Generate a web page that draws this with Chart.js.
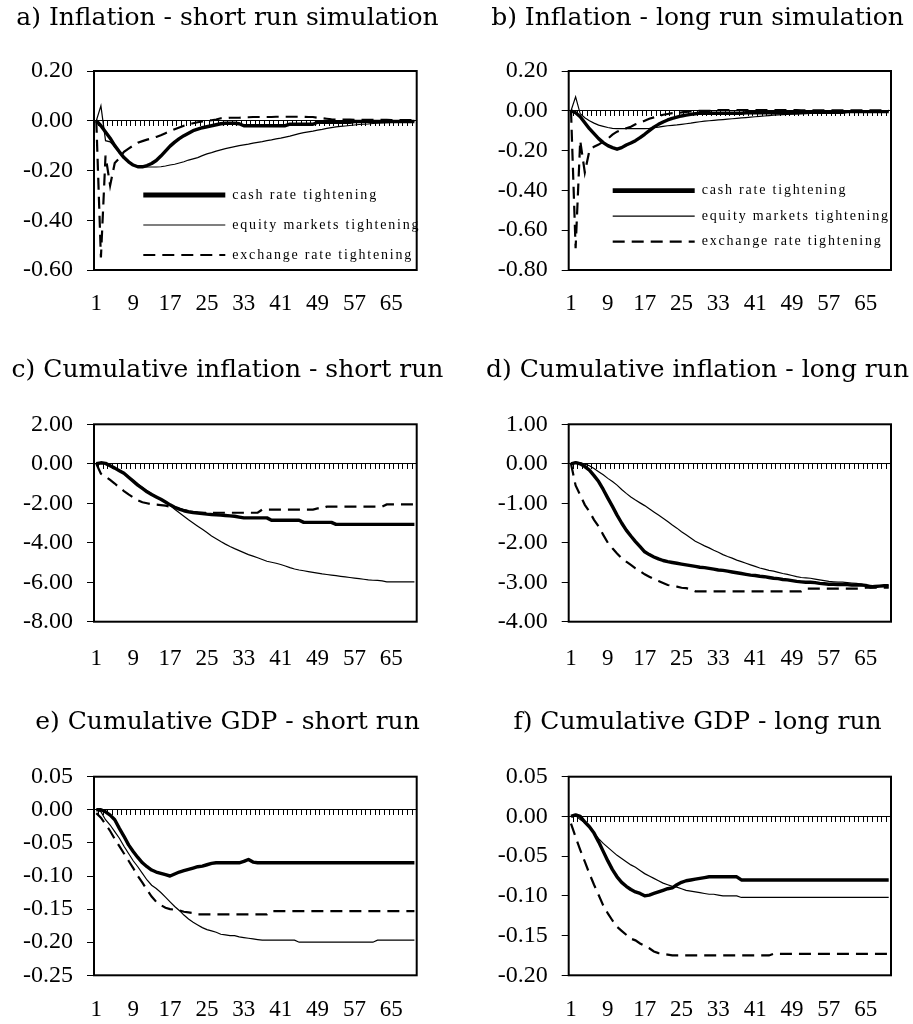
<!DOCTYPE html>
<html>
<head>
<meta charset="utf-8">
<script src="https://cdn.jsdelivr.net/npm/chart.js@4.4.1/dist/chart.umd.min.js"></script>
<style>
  html, body { margin: 0; padding: 0; background: #fff; }
  body { width: 913px; height: 1024px; position: relative; overflow: hidden; }
  canvas { position: absolute; }
</style>
</head>
<body>
<canvas id="pa" width="455" height="330" style="left:0px;top:0px"></canvas>
<canvas id="pb" width="431" height="330" style="left:482px;top:0px"></canvas>
<canvas id="pc" width="455" height="340" style="left:0px;top:340px"></canvas>
<canvas id="pd" width="431" height="340" style="left:482px;top:340px"></canvas>
<canvas id="pe" width="455" height="334" style="left:0px;top:690px"></canvas>
<canvas id="pf" width="431" height="334" style="left:482px;top:690px"></canvas>
<script>
// periods 1..70
var periods = [1, 2, 3, 4, 5, 6, 7, 8, 9, 10, 11, 12, 13, 14, 15, 16, 17, 18, 19, 20,
  21, 22, 23, 24, 25, 26, 27, 28, 29, 30, 31, 32, 33, 34, 35, 36, 37, 38, 39, 40,
  41, 42, 43, 44, 45, 46, 47, 48, 49, 50, 51, 52, 53, 54, 55, 56, 57, 58, 59, 60,
  61, 62, 63, 64, 65, 66, 67, 68, 69, 70];
var shownTicks = [1, 9, 17, 25, 33, 41, 49, 57, 65];
var seriesNames = ["cash rate tightening", "equity markets tightening", "exchange rate tightening"];

// a) Inflation - short run simulation
var cashA = [0, -0.02, -0.045, -0.07, -0.1, -0.125, -0.148, -0.165, -0.178, -0.185,
  -0.185, -0.18, -0.172, -0.16, -0.142, -0.122, -0.102, -0.086, -0.072, -0.06,
  -0.05, -0.04, -0.034, -0.028, -0.024, -0.02, -0.016, -0.012, -0.01, -0.01,
  -0.01, -0.012, -0.02, -0.02, -0.02, -0.02, -0.02, -0.02, -0.02, -0.02,
  -0.02, -0.02, -0.014, -0.014, -0.014, -0.014, -0.014, -0.014, -0.006, -0.006,
  -0.006, -0.006, -0.006, -0.006, -0.006, -0.006, -0.003, -0.003, -0.003, -0.003,
  -0.003, -0.003, -0.003, -0.003, -0.003, -0.003, -0.003, -0.003, -0.003, -0.003];
var equityA = [0, 0.06, -0.08, -0.085, -0.105, -0.128, -0.15, -0.167, -0.18, -0.186,
  -0.186, -0.186, -0.186, -0.186, -0.185, -0.182, -0.178, -0.175, -0.17, -0.165,
  -0.158, -0.153, -0.148, -0.14, -0.133, -0.128, -0.122, -0.117, -0.112, -0.108,
  -0.104, -0.1, -0.097, -0.094, -0.09, -0.087, -0.084, -0.08, -0.077, -0.073,
  -0.07, -0.066, -0.062, -0.057, -0.052, -0.048, -0.045, -0.042, -0.038, -0.035,
  -0.031, -0.028, -0.025, -0.023, -0.021, -0.019, -0.017, -0.015, -0.014, -0.013,
  -0.011, -0.01, -0.009, -0.008, -0.007, -0.006, -0.005, -0.004, -0.004, -0.003];
var exchA = [0, -0.55, -0.14, -0.26, -0.17, -0.15, -0.125, -0.112, -0.1, -0.088,
  -0.082, -0.076, -0.071, -0.065, -0.058, -0.05, -0.042, -0.034, -0.027, -0.02,
  -0.015, -0.01, -0.006, -0.003, 0, 0.002, 0.005, 0.01, 0.01, 0.012,
  0.012, 0.012, 0.014, 0.014, 0.015, 0.015, 0.015, 0.015, 0.015, 0.016,
  0.016, 0.016, 0.016, 0.016, 0.016, 0.016, 0.015, 0.015, 0.012, 0.01,
  0.008, 0.006, 0.005, 0.005, 0.005, 0.005, 0.004, 0.004, 0.004, 0.004,
  0.004, 0.004, 0.004, 0.004, 0.003, 0.003, 0.003, 0.003, 0.003, 0.003];

// b) Inflation - long run simulation
var cashB = [0, -0.01, -0.03, -0.06, -0.09, -0.115, -0.14, -0.16, -0.175, -0.185,
  -0.193, -0.185, -0.172, -0.162, -0.15, -0.135, -0.118, -0.1, -0.082, -0.068,
  -0.056, -0.046, -0.038, -0.032, -0.026, -0.022, -0.018, -0.015, -0.012, -0.012,
  -0.012, -0.012, -0.012, -0.012, -0.012, -0.012, -0.012, -0.012, -0.01, -0.01,
  -0.01, -0.01, -0.01, -0.01, -0.01, -0.01, -0.01, -0.01, -0.01, -0.01,
  -0.007, -0.007, -0.007, -0.007, -0.007, -0.007, -0.007, -0.007, -0.007, -0.007,
  -0.004, -0.004, -0.004, -0.004, -0.004, -0.004, -0.004, -0.004, -0.004, -0.004];
var equityB = [0, 0.07, -0.015, -0.035, -0.05, -0.062, -0.072, -0.078, -0.084, -0.088,
  -0.09, -0.09, -0.09, -0.09, -0.09, -0.09, -0.09, -0.088, -0.085, -0.082,
  -0.078, -0.075, -0.073, -0.071, -0.068, -0.065, -0.062, -0.058, -0.055, -0.052,
  -0.05, -0.048, -0.046, -0.044, -0.042, -0.04, -0.038, -0.036, -0.034, -0.032,
  -0.03, -0.028, -0.026, -0.024, -0.022, -0.02, -0.019, -0.018, -0.017, -0.016,
  -0.015, -0.014, -0.013, -0.012, -0.011, -0.01, -0.009, -0.008, -0.008, -0.007,
  -0.006, -0.006, -0.005, -0.005, -0.004, -0.004, -0.003, -0.003, -0.003, -0.003];
var exchB = [0, -0.69, -0.15, -0.31, -0.2, -0.18, -0.17, -0.155, -0.14, -0.12,
  -0.105, -0.096, -0.088, -0.08, -0.068, -0.06, -0.05, -0.04, -0.033, -0.026,
  -0.02, -0.016, -0.012, -0.01, -0.008, -0.005, -0.003, 0, 0, 0,
  0, 0, 0.004, 0.004, 0.004, 0.004, 0.004, 0.004, 0.004, 0.004,
  0.004, 0.004, 0.004, 0.004, 0.004, 0.004, 0.004, 0.004, 0.004, 0.004,
  0.002, 0.002, 0.002, 0.002, 0.002, 0.002, 0.002, 0.002, 0.002, 0.002,
  0.002, 0.002, 0.002, 0.002, 0.002, 0.002, 0.002, 0.002, 0.002, 0.002];

// c) Cumulative inflation - short run
var cashC = [0, 0.05, 0.02, -0.1, -0.22, -0.35, -0.48, -0.68, -0.88, -1.08,
  -1.25, -1.42, -1.56, -1.68, -1.8, -1.94, -2.08, -2.2, -2.3, -2.38,
  -2.43, -2.47, -2.5, -2.52, -2.55, -2.57, -2.58, -2.6, -2.62, -2.64,
  -2.66, -2.7, -2.74, -2.74, -2.74, -2.74, -2.74, -2.74, -2.86, -2.86,
  -2.86, -2.86, -2.86, -2.86, -2.86, -2.97, -2.97, -2.97, -2.97, -2.97,
  -2.97, -2.97, -3.07, -3.07, -3.07, -3.07, -3.07, -3.07, -3.07, -3.07,
  -3.07, -3.07, -3.07, -3.07, -3.07, -3.07, -3.07, -3.07, -3.07, -3.07];
var equityC = [0, 0.05, 0.02, -0.08, -0.2, -0.32, -0.46, -0.64, -0.84, -1.02,
  -1.2, -1.36, -1.52, -1.66, -1.8, -1.95, -2.1, -2.3, -2.48, -2.66,
  -2.84, -3.0, -3.16, -3.32, -3.48, -3.66, -3.8, -3.94, -4.07, -4.19,
  -4.3, -4.4, -4.5, -4.6, -4.68, -4.76, -4.85, -4.94, -4.99, -5.04,
  -5.1, -5.18, -5.26, -5.33, -5.38, -5.42, -5.46, -5.5, -5.54, -5.58,
  -5.61, -5.64, -5.67, -5.7, -5.73, -5.76, -5.79, -5.82, -5.85, -5.88,
  -5.9, -5.91, -5.93, -5.98, -5.98, -5.98, -5.98, -5.98, -5.98, -5.98];
var exchC = [0, -0.5, -0.65, -0.82, -1.0, -1.2, -1.38, -1.55, -1.7, -1.85,
  -1.95, -2.0, -2.05, -2.07, -2.09, -2.12, -2.17, -2.22, -2.28, -2.34,
  -2.4, -2.44, -2.46, -2.48, -2.48, -2.48, -2.48, -2.48, -2.48, -2.48,
  -2.48, -2.48, -2.48, -2.48, -2.48, -2.48, -2.32, -2.32, -2.32, -2.32,
  -2.32, -2.32, -2.32, -2.32, -2.32, -2.32, -2.32, -2.32, -2.26, -2.26,
  -2.17, -2.17, -2.17, -2.17, -2.17, -2.17, -2.17, -2.17, -2.17, -2.17,
  -2.17, -2.17, -2.17, -2.06, -2.06, -2.06, -2.06, -2.06, -2.06, -2.06];

// d) Cumulative inflation - long run
var cashD = [0, 0.03, 0, -0.07, -0.16, -0.3, -0.45, -0.65, -0.87, -1.08,
  -1.3, -1.5, -1.68, -1.83, -1.97, -2.1, -2.23, -2.3, -2.36, -2.41,
  -2.45, -2.48, -2.5, -2.52, -2.54, -2.56, -2.58, -2.6, -2.62, -2.63,
  -2.65, -2.67, -2.69, -2.7, -2.72, -2.74, -2.76, -2.78, -2.8, -2.82,
  -2.83, -2.85, -2.86, -2.88, -2.9, -2.91, -2.93, -2.94, -2.96, -2.98,
  -2.99, -3.0, -3.0, -3.01, -3.03, -3.04, -3.05, -3.05, -3.06, -3.06,
  -3.06, -3.07, -3.07, -3.07, -3.08, -3.12, -3.11, -3.1, -3.09, -3.09];
var equityD = [0, 0.04, 0.03, -0.01, -0.05, -0.12, -0.2, -0.28, -0.37, -0.45,
  -0.54, -0.65, -0.75, -0.84, -0.92, -0.99, -1.06, -1.14, -1.22, -1.3,
  -1.38, -1.46, -1.55, -1.63, -1.72, -1.8, -1.88, -1.96, -2.02, -2.08,
  -2.13, -2.19, -2.24, -2.3, -2.35, -2.39, -2.44, -2.48, -2.52, -2.56,
  -2.6, -2.64, -2.67, -2.7, -2.72, -2.75, -2.78, -2.8, -2.83, -2.86,
  -2.88, -2.89, -2.9, -2.92, -2.94, -2.96, -2.98, -2.99, -3.0, -3.0,
  -3.01, -3.02, -3.03, -3.05, -3.07, -3.08, -3.09, -3.09, -3.09, -3.09];
var exchD = [0, -0.55, -0.79, -1.04, -1.21, -1.42, -1.59, -1.8, -2.0, -2.14,
  -2.27, -2.39, -2.48, -2.56, -2.65, -2.72, -2.8, -2.86, -2.92, -2.97,
  -3.02, -3.07, -3.09, -3.11, -3.14, -3.15, -3.18, -3.23, -3.23, -3.23,
  -3.23, -3.23, -3.23, -3.23, -3.23, -3.23, -3.23, -3.23, -3.23, -3.23,
  -3.23, -3.23, -3.23, -3.23, -3.23, -3.23, -3.23, -3.23, -3.23, -3.23,
  -3.23, -3.16, -3.16, -3.16, -3.16, -3.16, -3.16, -3.16, -3.16, -3.16,
  -3.16, -3.16, -3.16, -3.16, -3.14, -3.14, -3.14, -3.14, -3.14, -3.14];

// e) Cumulative GDP - short run
var cashE = [0, 0, -0.003, -0.008, -0.015, -0.028, -0.04, -0.053, -0.063, -0.072,
  -0.08, -0.086, -0.091, -0.094, -0.096, -0.098, -0.1, -0.097, -0.094, -0.092,
  -0.09, -0.088, -0.086, -0.085, -0.083, -0.081, -0.08, -0.08, -0.08, -0.08,
  -0.08, -0.08, -0.078, -0.075, -0.079, -0.08, -0.08, -0.08, -0.08, -0.08,
  -0.08, -0.08, -0.08, -0.08, -0.08, -0.08, -0.08, -0.08, -0.08, -0.08,
  -0.08, -0.08, -0.08, -0.08, -0.08, -0.08, -0.08, -0.08, -0.08, -0.08,
  -0.08, -0.08, -0.08, -0.08, -0.08, -0.08, -0.08, -0.08, -0.08, -0.08];
var equityE = [0, -0.003, -0.015, -0.023, -0.033, -0.043, -0.055, -0.066, -0.077, -0.086,
  -0.096, -0.106, -0.114, -0.119, -0.125, -0.132, -0.139, -0.146, -0.152, -0.159,
  -0.165, -0.17, -0.174, -0.178, -0.181, -0.183, -0.185, -0.188, -0.189, -0.19,
  -0.19, -0.192, -0.193, -0.194, -0.195, -0.196, -0.197, -0.197, -0.197, -0.197,
  -0.197, -0.197, -0.197, -0.197, -0.2, -0.2, -0.2, -0.2, -0.2, -0.2,
  -0.2, -0.2, -0.2, -0.2, -0.2, -0.2, -0.2, -0.2, -0.2, -0.2,
  -0.2, -0.197, -0.197, -0.197, -0.197, -0.197, -0.197, -0.197, -0.197, -0.197];
var exchE = [-0.005, -0.012, -0.022, -0.032, -0.044, -0.055, -0.066, -0.077, -0.088, -0.1,
  -0.11, -0.121, -0.131, -0.139, -0.144, -0.148, -0.15, -0.151, -0.152, -0.154,
  -0.155, -0.156, -0.158, -0.158, -0.158, -0.158, -0.158, -0.158, -0.158, -0.158,
  -0.158, -0.158, -0.158, -0.158, -0.158, -0.158, -0.158, -0.158, -0.153, -0.153,
  -0.153, -0.153, -0.153, -0.153, -0.153, -0.153, -0.153, -0.153, -0.153, -0.153,
  -0.153, -0.153, -0.153, -0.153, -0.153, -0.153, -0.153, -0.153, -0.153, -0.153,
  -0.153, -0.153, -0.153, -0.153, -0.153, -0.153, -0.153, -0.153, -0.153, -0.153];

// f) Cumulative GDP - long run
var cashF = [0, 0.002, 0, -0.007, -0.013, -0.021, -0.032, -0.044, -0.056, -0.067,
  -0.076, -0.083, -0.088, -0.092, -0.095, -0.097, -0.1, -0.099, -0.097, -0.095,
  -0.093, -0.091, -0.09, -0.086, -0.083, -0.081, -0.08, -0.079, -0.078, -0.077,
  -0.076, -0.076, -0.076, -0.076, -0.076, -0.076, -0.076, -0.08, -0.08, -0.08,
  -0.08, -0.08, -0.08, -0.08, -0.08, -0.08, -0.08, -0.08, -0.08, -0.08,
  -0.08, -0.08, -0.08, -0.08, -0.08, -0.08, -0.08, -0.08, -0.08, -0.08,
  -0.08, -0.08, -0.08, -0.08, -0.08, -0.08, -0.08, -0.08, -0.08, -0.08];
var equityF = [0, 0.001, -0.004, -0.008, -0.014, -0.021, -0.028, -0.034, -0.039, -0.044,
  -0.049, -0.053, -0.057, -0.061, -0.064, -0.068, -0.072, -0.075, -0.078, -0.081,
  -0.084, -0.086, -0.088, -0.089, -0.091, -0.093, -0.094, -0.095, -0.096, -0.097,
  -0.098, -0.098, -0.099, -0.1, -0.1, -0.1, -0.1, -0.102, -0.102, -0.102,
  -0.102, -0.102, -0.102, -0.102, -0.102, -0.102, -0.102, -0.102, -0.102, -0.102,
  -0.102, -0.102, -0.102, -0.102, -0.102, -0.102, -0.102, -0.102, -0.102, -0.102,
  -0.102, -0.102, -0.102, -0.102, -0.102, -0.102, -0.102, -0.102, -0.102, -0.102];
var exchF = [-0.009, -0.026, -0.042, -0.057, -0.072, -0.086, -0.099, -0.112, -0.122, -0.131,
  -0.139, -0.144, -0.149, -0.154, -0.156, -0.16, -0.163, -0.166, -0.17, -0.172,
  -0.173, -0.174, -0.175, -0.175, -0.175, -0.175, -0.175, -0.175, -0.175, -0.175,
  -0.175, -0.175, -0.175, -0.175, -0.175, -0.175, -0.175, -0.175, -0.175, -0.175,
  -0.175, -0.175, -0.175, -0.175, -0.173, -0.173, -0.173, -0.173, -0.173, -0.173,
  -0.173, -0.173, -0.173, -0.173, -0.173, -0.173, -0.173, -0.173, -0.173, -0.173,
  -0.173, -0.173, -0.173, -0.173, -0.173, -0.173, -0.173, -0.173, -0.173, -0.173];

// y tick labels, top to bottom
var yTicksA = [0.2, 0, -0.2, -0.4, -0.6];
var yTicksB = [0.2, 0, -0.2, -0.4, -0.6, -0.8];
var yTicksC = [2, 0, -2, -4, -6, -8];
var yTicksD = [1, 0, -1, -2, -3, -4];
var yTicksE = [0.05, 0, -0.05, -0.1, -0.15, -0.2, -0.25];
var yTicksF = [0.05, 0, -0.05, -0.1, -0.15, -0.2];

Chart.defaults.font.family = "'Liberation Serif', 'Times New Roman', serif";
Chart.defaults.color = '#000';

// box round the plot area
var frame = {
  id: 'frame',
  beforeDatasetsDraw: function(chart) {
    var ctx = chart.ctx, a = chart.chartArea;
    ctx.save();
    ctx.strokeStyle = '#000';
    ctx.lineWidth = 2;
    ctx.strokeRect(a.left, a.top, a.right - a.left, a.bottom - a.top);
    ctx.restore();
  }
};

// put the legend inside the plot and space its letters
var legendSpot = {
  id: 'legendSpot',
  afterLayout: function(chart, args, opts) {
    var lg = chart.legend;
    if (!lg || opts.x === undefined) return;
    var pad = lg.options.labels.padding;
    lg.left = opts.x - pad;
    lg.top = opts.y;
    lg.width = 320;
    lg.height = 160;
    lg.right = lg.left + 320;
    lg.bottom = lg.top + 160;
    if (!lg._spaced) {
      var draw = lg.draw;
      lg.draw = function(area) {
        var c = this.ctx;
        c.save();
        c.letterSpacing = opts.spacing;
        draw.call(this, area);
        c.restore();
      };
      lg._spaced = true;
    }
  }
};

// column / row geometry
var cols = {
  left: { yW: 94, padR: 38.3 },
  right: { yW: 86.7, padR: 22 }
};
var rows = {
  r1: { tTop: 3.6, tBottom: 38.6, xH: 60, xPad: 20 },
  r2: { tTop: 16.4, tBottom: 39.1, xH: 58.3, xPad: 23 },
  r3: { tTop: 17.6, tBottom: 40.3, xH: 48.7, xPad: 21 }
};

function panel(id, col, row, titleText, cash, equity, exch, yTicks, legendAt) {
  var c = cols[col], r = rows[row];
  var showLegend = !!legendAt;
  return new Chart(document.getElementById(id), {
    type: 'line',
    data: {
      labels: periods,
      datasets: [
        { label: seriesNames[0], data: cash, borderColor: '#000', borderWidth: 3.4,
          borderJoinStyle: 'round', pointRadius: 0, xAxisID: 'x', yAxisID: 'y' },
        { label: seriesNames[1], data: equity, borderColor: '#000', borderWidth: 1.2,
          pointRadius: 0, xAxisID: 'x', yAxisID: 'y' },
        { label: seriesNames[2], data: exch, borderColor: '#000', borderWidth: 2.2,
          borderDash: [12, 7], pointRadius: 0, xAxisID: 'x', yAxisID: 'y' }
      ]
    },
    options: {
      responsive: false,
      animation: false,
      events: [],
      layout: { padding: 0 },
      scales: {
        x: {
          type: 'category',
          offset: true,
          grid: { display: false, drawTicks: false },
          border: { display: false },
          ticks: {
            autoSkip: false, maxRotation: 0, minRotation: 0,
            padding: r.xPad,
            color: '#000',
            font: { size: 23 },
            callback: function(v) {
              var lab = this.getLabelForValue(v);
              return shownTicks.indexOf(lab) >= 0 ? String(lab) : '';
            }
          },
          afterFit: function(s) { s.height = r.xH; }
        },
        x0: {
          type: 'category',
          axis: 'x',
          position: { y: 0 },
          offset: true,
          grid: { display: true, drawOnChartArea: false, drawTicks: true, tickLength: 5,
                  color: '#000', lineWidth: 1, offset: true },
          border: { display: true, color: '#000', width: 1 },
          ticks: { display: false }
        },
        y: {
          type: 'linear',
          position: 'left',
          min: yTicks[yTicks.length - 1],
          max: yTicks[0],
          afterBuildTicks: function(s) {
            s.ticks = yTicks.map(function(v) { return { value: v }; });
          },
          grid: { drawOnChartArea: false, drawTicks: true, tickLength: 7, color: '#000', lineWidth: 1 },
          border: { display: false },
          ticks: {
            padding: 14,
            color: '#000',
            font: { size: 24 },
            callback: function(v) { return (Math.abs(v) < 1e-9 ? 0 : v).toFixed(2); }
          },
          afterFit: function(s) { s.width = c.yW; }
        },
        yR: {
          type: 'linear',
          position: 'right',
          axis: 'y',
          grid: { display: false, drawTicks: false },
          border: { display: false },
          ticks: { display: false },
          afterFit: function(s) { s.width = c.padR; }
        }
      },
      plugins: {
        title: {
          display: true,
          text: titleText,
          color: '#000',
          font: { family: "'DejaVu Serif', serif", size: 25, weight: 'normal', lineHeight: 1.2 },
          padding: { top: r.tTop - 0.6, bottom: r.tBottom - 0.6 }
        },
        legend: {
          display: showLegend,
          position: 'chartArea',
          align: 'start',
          labels: {
            usePointStyle: true,
            pointStyle: 'line',
            pointStyleWidth: 82,
            padding: legendAt ? legendAt.gap : 10,
            color: '#000',
            font: { size: 14 },
            generateLabels: function(chart) {
              return chart.data.datasets.map(function(ds, i) {
                return {
                  text: ds.label,
                  strokeStyle: '#000',
                  fillStyle: '#000',
                  lineWidth: i === 0 ? 4.8 : ds.borderWidth,
                  lineDash: ds.borderDash || [],
                  pointStyle: 'line',
                  fontColor: '#000',
                  hidden: false,
                  datasetIndex: i
                };
              });
            }
          }
        },
        tooltip: { enabled: false },
        legendSpot: legendAt || {}
      }
    },
    plugins: [frame, legendSpot]
  });
}

panel('pa', 'left', 'r1', 'a) Inflation - short run simulation', cashA, equityA, exchA, yTicksA,
  { x: 143.3, y: 172, gap: 16, spacing: '1.8px' });
panel('pb', 'right', 'r1', 'b) Inflation - long run simulation', cashB, equityB, exchB, yTicksB,
  { x: 130.7, y: 172.2, gap: 11.5, spacing: '1.8px' });
panel('pc', 'left', 'r2', 'c) Cumulative inflation - short run', cashC, equityC, exchC, yTicksC, null);
panel('pd', 'right', 'r2', 'd) Cumulative inflation - long run', cashD, equityD, exchD, yTicksD, null);
panel('pe', 'left', 'r3', 'e) Cumulative GDP - short run', cashE, equityE, exchE, yTicksE, null);
panel('pf', 'right', 'r3', 'f) Cumulative GDP - long run', cashF, equityF, exchF, yTicksF, null);
</script>
</body>
</html>
